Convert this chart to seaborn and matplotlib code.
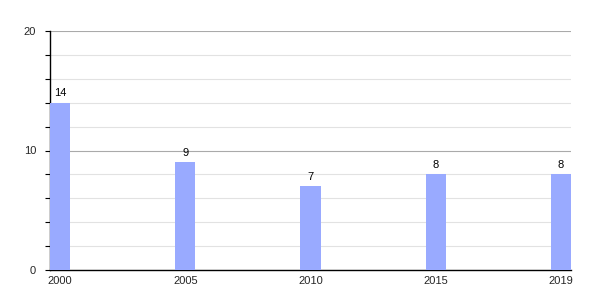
import matplotlib
matplotlib.use("Agg")
import matplotlib.pyplot as plt
import seaborn as sns
import pandas as pd
from matplotlib.ticker import MultipleLocator

years = ["2000", "2005", "2010", "2015", "2019"]
values = [14, 9, 7, 8, 8]

sns.set_style("white")
plt.rcParams['font.family'] = ['Liberation Sans', 'DejaVu Sans']

df = pd.DataFrame({"year": years, "value": values})

fig = plt.figure(figsize=(6, 3), dpi=100)
ax = fig.add_axes([50/600, 30/300, 521/600, 239/300])

w = 0.16
sns.barplot(data=df, x="year", y="value", color="#99aaff", saturation=1,
            width=w, ax=ax, zorder=3)
for p in ax.patches:
    p.set_edgecolor("none")

ax.set_xlim(-w/2, len(years) - 1 + w/2)
ax.set_ylim(0, 20)
ax.yaxis.set_major_locator(MultipleLocator(10))
ax.yaxis.set_minor_locator(MultipleLocator(2))
ax.grid(True, axis="y", which="minor", color="#e2e2e2", linewidth=0.8, zorder=0)
ax.grid(True, axis="y", which="major", color="#aaaaaa", linewidth=0.8, zorder=0)
ax.set_axisbelow(True)

for s in ["top", "right"]:
    ax.spines[s].set_visible(False)
for s in ["left", "bottom"]:
    ax.spines[s].set_color("black")
    ax.spines[s].set_linewidth(1)

ax.tick_params(axis="y", which="both", left=True, length=3.6, width=0.8,
               color="black", labelsize=8, pad=6.5)
ax.tick_params(axis="x", bottom=False, labelsize=8, pad=0.5)
ax.set_xlabel("")
ax.set_ylabel("")

for i, v in enumerate(values):
    ax.text(i, v + 0.4, str(v), ha="center", va="bottom", fontsize=8, color="black")

fig.savefig("out.png", dpi=100)
